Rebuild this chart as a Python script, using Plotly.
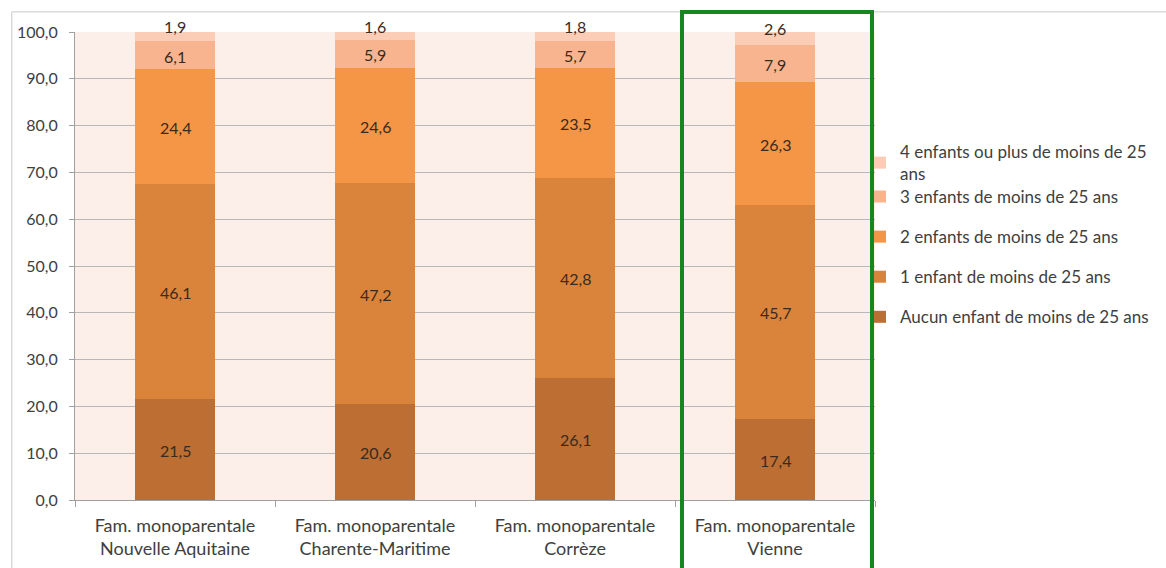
import plotly.graph_objects as go

categories = ["Fam. monoparentale<br>Nouvelle Aquitaine", "Fam. monoparentale<br>Charente-Maritime",
              "Fam. monoparentale<br>Corrèze", "Fam. monoparentale<br>Vienne"]
series_names = ["Aucun enfant de moins de 25 ans", "1 enfant de moins de 25 ans",
                "2 enfants de moins de 25 ans", "3 enfants de moins de 25 ans",
                "4 enfants ou plus de moins de 25<br>ans"]
aucun = [21.5, 20.6, 26.1, 17.4]
un = [46.1, 47.2, 42.8, 45.7]
deux = [24.4, 24.6, 23.5, 26.3]
trois = [6.1, 5.9, 5.7, 7.9]
quatre = [1.9, 1.6, 1.8, 2.6]
y_ticks = [0, 10, 20, 30, 40, 50, 60, 70, 80, 90, 100]

series = [aucun, un, deux, trois, quatre]
colors = ["#BC6E33", "#D9843A", "#F49646", "#F8B48E", "#FBCDB6"]

FONT = "Lato"
TXT = "#404040"
fig = go.Figure()
n = len(series)
for i, (name, vals, col) in enumerate(zip(series_names, series, colors)):
    fig.add_trace(go.Bar(x=categories, y=vals, name=name, marker_color=col,
                         marker_line_width=0, legendgroup=str(i), legendrank=n - i,
                         legend="legend2" if i == n - 1 else "legend"))

annotations = []
base = [0] * len(categories)
for si, vals in enumerate(series):
    for ci, v in enumerate(vals):
        mid = base[ci] + v / 2
        annotations.append(dict(x=categories[ci], y=mid, xref="x", yref="y",
                                text=f"{v:.1f}".replace(".", ","), showarrow=False,
                                yshift=10 if si == n - 1 else -1,
                                font=dict(family=FONT, size=16, color="#3A2A1E")))
        base[ci] += v

leg_common = dict(x=0.98125, xanchor="left", yanchor="top", traceorder="grouped",
                  tracegroupgap=15, font=dict(family=FONT, size=17, color=TXT),
                  itemwidth=30, bgcolor="rgba(0,0,0,0)")
fig.update_layout(
    barmode="stack",
    bargap=0.6,
    width=1166, height=568,
    margin=dict(l=75, r=291, t=32, b=68),
    paper_bgcolor="white",
    plot_bgcolor="#FCEEE8",
    separators=",.",
    font=dict(family=FONT, size=16, color=TXT),
    legend=dict(y=0.686, **leg_common),
    legend2=dict(y=0.782, **leg_common),
    annotations=annotations,
    shapes=[
        dict(type="rect", xref="paper", yref="paper", x0=-0.079, x1=1.4, y0=-0.2, y1=1.043,
             line=dict(color="#C8C8C8", width=1), layer="below"),
        dict(type="rect", xref="x", yref="paper", x0=2.535, x1=3.485, y0=-0.2, y1=1.043,
             line=dict(color="#16871F", width=4)),
    ],
)
fig.update_yaxes(range=[0, 100], tickvals=y_ticks, tickformat=".1f", showgrid=True,
                 gridcolor="#B8B8B8", gridwidth=1, showline=True, linecolor="#A0A0A0",
                 ticks="outside", ticklen=5, tickcolor="#A0A0A0", zeroline=False,
                 ticklabelstandoff=8, automargin=False,
                 tickfont=dict(family=FONT, size=16, color=TXT))
fig.update_xaxes(showline=True, linecolor="#A0A0A0", ticks="outside", tickson="boundaries",
                 ticklen=6, tickcolor="#A0A0A0", showgrid=False,
                 ticklabelstandoff=9, automargin=False,
                 tickfont=dict(family=FONT, size=18, color=TXT))

fig.write_html("out.html")
